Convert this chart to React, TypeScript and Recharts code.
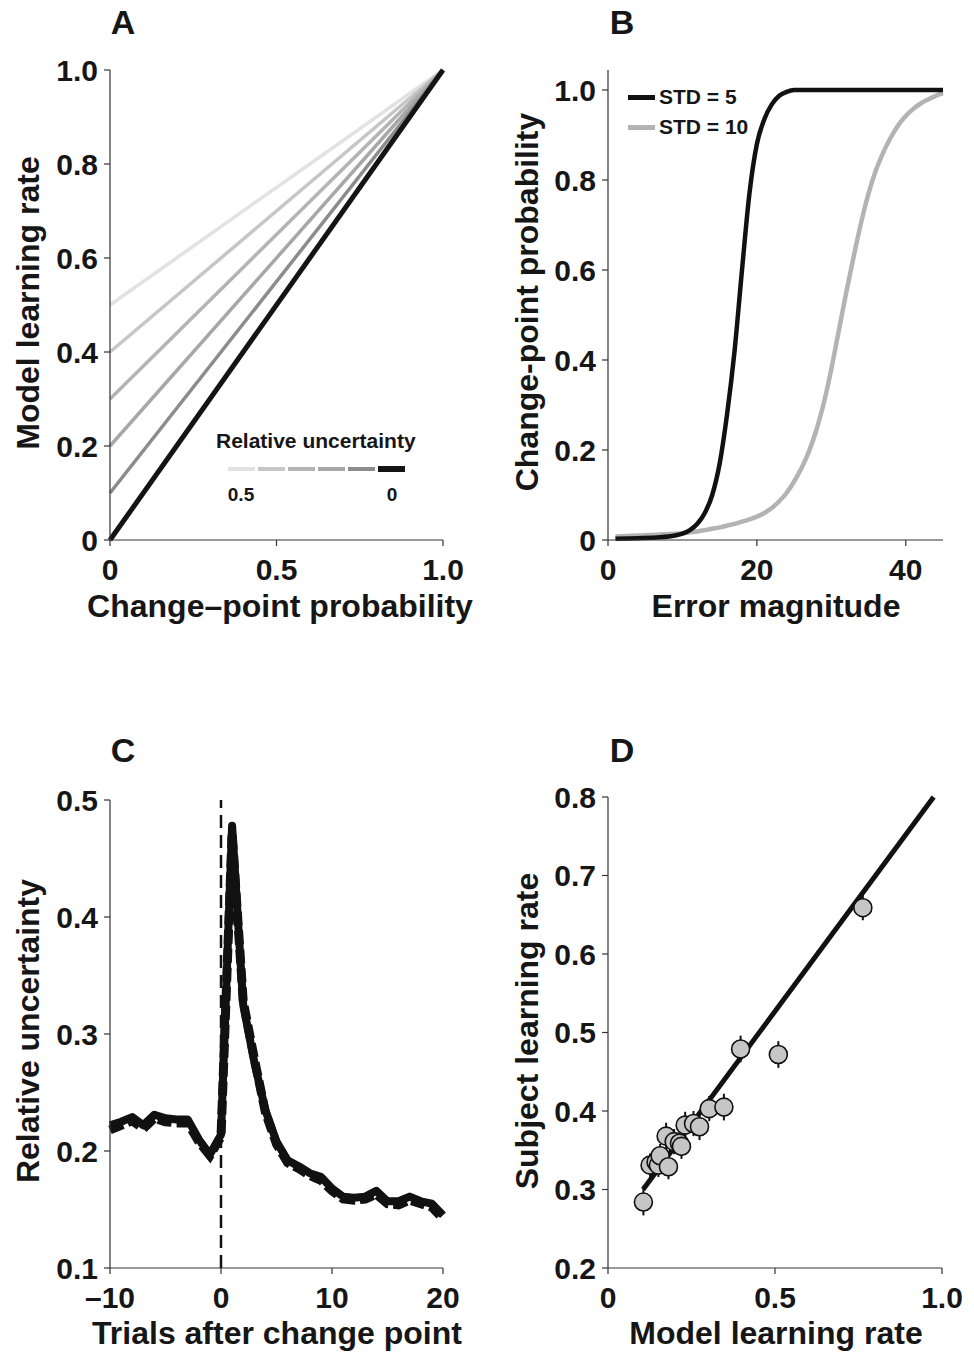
import React from "react"
import {
  LineChart, Line, XAxis, YAxis, ReferenceLine,
  ComposedChart, Scatter, ErrorBar,
} from "recharts"

const FONT = '"Liberation Sans", Arial, Helvetica, sans-serif'

// ---- A: learning rate vs change-point probability
const cpProb = [0, 1]
const uncertaintyLevels = ["0.5", "0.4", "0.3", "0.2", "0.1", "0"]
const lrAtZero = [0.5, 0.4, 0.3, 0.2, 0.1, 0]
const lrAtOne = [1, 1, 1, 1, 1, 1]

// ---- B: change-point probability vs error magnitude
const errMag = [1, 4, 7, 9, 10, 11, 12, 13, 14, 15, 16, 17, 18, 19, 20, 21, 22, 23, 24, 25, 26, 27, 28, 29, 30, 31, 32, 33, 34, 35, 36, 37, 38, 39, 40, 41, 42, 43, 44, 45]
const cpStd5 = [0.003, 0.004, 0.006, 0.01, 0.014, 0.022, 0.036, 0.06, 0.1, 0.17, 0.28, 0.42, 0.6, 0.77, 0.88, 0.935, 0.968, 0.987, 0.996, 1, 1, 1, 1, 1, 1, 1, 1, 1, 1, 1, 1, 1, 1, 1, 1, 1, 1, 1, 1, 1]
const cpStd10 = [0.008, 0.01, 0.012, 0.014, 0.015, 0.017, 0.019, 0.022, 0.025, 0.028, 0.032, 0.036, 0.041, 0.046, 0.052, 0.06, 0.071, 0.086, 0.105, 0.13, 0.16, 0.197, 0.245, 0.305, 0.38, 0.465, 0.55, 0.63, 0.705, 0.77, 0.822, 0.862, 0.895, 0.922, 0.942, 0.958, 0.97, 0.979, 0.987, 0.993]

// ---- C: relative uncertainty around change points
const trials = [-10, -9, -8, -7, -6, -5, -4, -3, -2, -1, 0, 1, 2, 3, 4, 5, 6, 7, 8, 9, 10, 11, 12, 13, 14, 15, 16, 17, 18, 19, 20]
const ruSolid = [0.222, 0.225, 0.229, 0.222, 0.231, 0.228, 0.227, 0.227, 0.21, 0.197, 0.214, 0.478, 0.325, 0.276, 0.235, 0.208, 0.192, 0.187, 0.181, 0.178, 0.168, 0.161, 0.16, 0.161, 0.166, 0.157, 0.157, 0.161, 0.157, 0.155, 0.145]
const ruDashed = [0.218, 0.222, 0.226, 0.219, 0.228, 0.225, 0.224, 0.224, 0.208, 0.196, 0.212, 0.472, 0.328, 0.279, 0.233, 0.206, 0.19, 0.185, 0.179, 0.175, 0.166, 0.159, 0.158, 0.159, 0.163, 0.155, 0.154, 0.158, 0.155, 0.152, 0.142]

// ---- D: subject vs model learning rate
const modelLr = [0.106, 0.126, 0.144, 0.151, 0.156, 0.174, 0.181, 0.198, 0.214, 0.22, 0.231, 0.256, 0.274, 0.303, 0.347, 0.397, 0.51, 0.763]
const subjectLr = [0.284, 0.331, 0.335, 0.331, 0.343, 0.368, 0.329, 0.361, 0.359, 0.355, 0.382, 0.384, 0.38, 0.403, 0.405, 0.479, 0.472, 0.659]
const subjectSem = [0.017, 0.015, 0.016, 0.015, 0.015, 0.017, 0.016, 0.016, 0.015, 0.016, 0.017, 0.016, 0.017, 0.016, 0.017, 0.017, 0.017, 0.016]
const fitX = [0.105, 0.975]
const fitY = [0.3, 0.8]

// styles
const greys = ["#e2e2e2", "#c6c6c6", "#b4b4b4", "#a7a7a7", "#8c8c8c", "#141414"]
const greyWidths = [3.5, 3.5, 3.5, 3.5, 3.5, 5]

const rowsA = cpProb.map((x, i) => {
  const row: Record<string, number> = { x }
  lrAtZero.forEach((v, k) => { row[`u${k}`] = i === 0 ? v : lrAtOne[k] })
  return row
})
const rowsB = errMag.map((x, i) => ({ x, s5: cpStd5[i], s10: cpStd10[i] }))
const rowsC = trials.map((x, i) => ({ x, solid: ruSolid[i], dashed: ruDashed[i] }))
const rowsD = modelLr.map((x, i) => ({ x, y: subjectLr[i], err: subjectSem[i] }))
const fitRows = fitX.map((x, i) => ({ x, y: fitY[i] }))

const YW = 100
const XH = 50
type Box = { left: number; top: number; width: number; height: number }
type Plot = { x0: number; y0: number; x1: number; y1: number }
function marginsFor(b: Box, p: Plot) {
  return {
    left: p.x0 - b.left - YW,
    top: p.y0 - b.top,
    right: b.left + b.width - p.x1,
    bottom: b.top + b.height - p.y1 - XH,
  }
}

const boxA = { left: 0, top: 40, width: 487, height: 600 }
const boxB = { left: 487, top: 40, width: 487, height: 600 }
const boxC = { left: 0, top: 760, width: 487, height: 595 }
const boxD = { left: 487, top: 760, width: 487, height: 595 }

const tickStyle = { fontSize: 30, fontWeight: 700, fill: "#161616", fontFamily: FONT }
const axisLine = { stroke: "#333", strokeWidth: 1.2 }
const tickLine = { stroke: "#333", strokeWidth: 1.2 }

const fmtDec = (v: number) => (v === 0 ? "0" : v.toFixed(1))
const fmtInt = (v: number) => (v < 0 ? `\u2013${Math.abs(v)}` : `${v}`)

function Title({ cx, cy, rotate, size = 32, children }: { cx: number; cy: number; rotate?: boolean; size?: number; children: React.ReactNode }) {
  return (
    <div
      style={{
        position: "absolute", left: cx, top: cy, fontSize: size, fontWeight: 700, lineHeight: 1,
        whiteSpace: "nowrap", transform: `translate(-50%, -50%)${rotate ? " rotate(-90deg)" : ""}`,
      }}
    >
      {children}
    </div>
  )
}

function Placed({ box, children }: { box: Box; children: React.ReactNode }) {
  return <div style={{ position: "absolute", left: box.left, top: box.top }}>{children}</div>
}

export default function App() {
  return (
    <div style={{ position: "absolute", left: 0, top: 0, width: 974, height: 1355, background: "#fff", fontFamily: FONT, color: "#161616" }}>
      {/* A */}
      <Placed box={boxA}>
        <LineChart width={boxA.width} height={boxA.height} data={rowsA} margin={marginsFor(boxA, { x0: 110, y0: 70, x1: 443, y1: 540 })}>
          <XAxis type="number" dataKey="x" domain={[0, 1]} ticks={[0, 0.5, 1]} tickFormatter={(v) => (v === 1 ? "1.0" : fmtDec(v))}
            height={XH} tick={tickStyle} axisLine={axisLine} tickLine={tickLine} tickSize={6} tickMargin={13} />
          <YAxis type="number" domain={[0, 1]} ticks={[0, 0.2, 0.4, 0.6, 0.8, 1]} tickFormatter={fmtDec}
            width={YW} tick={tickStyle} axisLine={axisLine} tickLine={tickLine} tickSize={6} tickMargin={6} />
          {lrAtZero.map((_, k) => (
            <Line key={k} dataKey={`u${k}`} name={uncertaintyLevels[k]} type="linear" stroke={greys[k]}
              strokeWidth={greyWidths[k]} dot={false} isAnimationActive={false} />
          ))}
        </LineChart>
      </Placed>
      <div style={{ position: "absolute", left: 216, top: 429, fontSize: 21, fontWeight: 700, lineHeight: "24px", whiteSpace: "nowrap" }}>
        Relative uncertainty
      </div>
      {uncertaintyLevels.map((lvl, k) => (
        <div key={lvl} style={{ position: "absolute", left: 228 + k * 30, top: k === 5 ? 466 : 467, width: 27, height: k === 5 ? 6 : 4, background: greys[k] }} />
      ))}
      <Title cx={241} cy={494} size={19}>{uncertaintyLevels[0]}</Title>
      <Title cx={392} cy={494} size={19}>{uncertaintyLevels[5]}</Title>

      {/* B */}
      <Placed box={boxB}>
        <LineChart width={boxB.width} height={boxB.height} data={rowsB} margin={marginsFor(boxB, { x0: 608, y0: 70, x1: 943, y1: 540 })}>
          <XAxis type="number" dataKey="x" domain={[0, 45]} ticks={[0, 20, 40]} tickFormatter={fmtInt}
            height={XH} tick={tickStyle} axisLine={axisLine} tickLine={tickLine} tickSize={6} tickMargin={13} />
          <YAxis type="number" domain={[0, 1.0444]} ticks={[0, 0.2, 0.4, 0.6, 0.8, 1]} tickFormatter={fmtDec}
            width={YW} tick={tickStyle} axisLine={axisLine} tickLine={tickLine} tickSize={6} tickMargin={6} />
          <Line dataKey="s10" name="STD = 10" type="monotone" stroke="#b3b3b3" strokeWidth={4.5} dot={false} isAnimationActive={false} />
          <Line dataKey="s5" name="STD = 5" type="monotone" stroke="#111" strokeWidth={4.5} dot={false} isAnimationActive={false} />
        </LineChart>
      </Placed>
      <div style={{ position: "absolute", left: 628, top: 95, width: 27, height: 5, background: "#111" }} />
      <div style={{ position: "absolute", left: 628, top: 125, width: 27, height: 5, background: "#b3b3b3" }} />
      <div style={{ position: "absolute", left: 659, top: 85, fontSize: 21, fontWeight: 700, lineHeight: "24px" }}>STD = 5</div>
      <div style={{ position: "absolute", left: 659, top: 115, fontSize: 21, fontWeight: 700, lineHeight: "24px" }}>STD = 10</div>

      {/* C */}
      <Placed box={boxC}>
        <LineChart width={boxC.width} height={boxC.height} data={rowsC} margin={marginsFor(boxC, { x0: 110, y0: 800, x1: 443, y1: 1268 })}>
          <XAxis type="number" dataKey="x" domain={[-10, 20]} ticks={[-10, 0, 10, 20]} tickFormatter={fmtInt}
            height={XH} tick={tickStyle} axisLine={axisLine} tickLine={tickLine} tickSize={6} tickMargin={13} />
          <YAxis type="number" domain={[0.1, 0.5]} ticks={[0.1, 0.2, 0.3, 0.4, 0.5]} tickFormatter={fmtDec}
            width={YW} tick={tickStyle} axisLine={axisLine} tickLine={tickLine} tickSize={6} tickMargin={6} />
          <ReferenceLine x={0} stroke="#111" strokeWidth={2.5} strokeDasharray="13 7" />
          <Line dataKey="dashed" type="linear" stroke="#111" strokeWidth={9} strokeDasharray="14 5" dot={false} isAnimationActive={false} />
          <Line dataKey="solid" type="linear" stroke="#111" strokeWidth={8} strokeLinejoin="round" dot={false} isAnimationActive={false} />
        </LineChart>
      </Placed>

      {/* D */}
      <Placed box={boxD}>
        <ComposedChart width={boxD.width} height={boxD.height} data={rowsD} margin={marginsFor(boxD, { x0: 608, y0: 797, x1: 942, y1: 1268 })}>
          <XAxis type="number" dataKey="x" domain={[0, 1]} ticks={[0, 0.5, 1]} tickFormatter={(v) => (v === 1 ? "1.0" : fmtDec(v))}
            height={XH} tick={tickStyle} axisLine={axisLine} tickLine={tickLine} tickSize={6} tickMargin={13} />
          <YAxis type="number" dataKey="y" domain={[0.2, 0.8]} ticks={[0.2, 0.3, 0.4, 0.5, 0.6, 0.7, 0.8]} tickFormatter={(v) => v.toFixed(1)}
            width={YW} tick={tickStyle} axisLine={axisLine} tickLine={tickLine} tickSize={6} tickMargin={6} />
          <Line data={fitRows} dataKey="y" type="linear" stroke="#111" strokeWidth={5} dot={false} isAnimationActive={false} />
          <Scatter data={rowsD} dataKey="y" isAnimationActive={false} shape={() => <g />}>
            <ErrorBar dataKey="err" direction="y" width={0} stroke="#111" strokeWidth={2} />
          </Scatter>
          <Scatter data={rowsD} dataKey="y" isAnimationActive={false}
            shape={(p: { cx?: number; cy?: number }) => (
              <circle cx={p.cx} cy={p.cy} r={9} fill="#c6c6c6" stroke="#111" strokeWidth={1.6} />
            )} />
        </ComposedChart>
      </Placed>

      {/* panel letters */}
      <Title cx={123} cy={22} size={34}>A</Title>
      <Title cx={622} cy={22} size={34}>B</Title>
      <Title cx={123} cy={750} size={34}>C</Title>
      <Title cx={622} cy={750} size={34}>D</Title>

      {/* axis titles */}
      <Title cx={28} cy={303} rotate>Model learning rate</Title>
      <Title cx={280} cy={606}>Change–point probability</Title>
      <Title cx={527} cy={302} rotate>Change-point probability</Title>
      <Title cx={776} cy={606}>Error magnitude</Title>
      <Title cx={28} cy={1031} rotate>Relative uncertainty</Title>
      <Title cx={277} cy={1333}>Trials after change point</Title>
      <Title cx={527} cy={1031} rotate>Subject learning rate</Title>
      <Title cx={776} cy={1333}>Model learning rate</Title>
    </div>
  )
}
